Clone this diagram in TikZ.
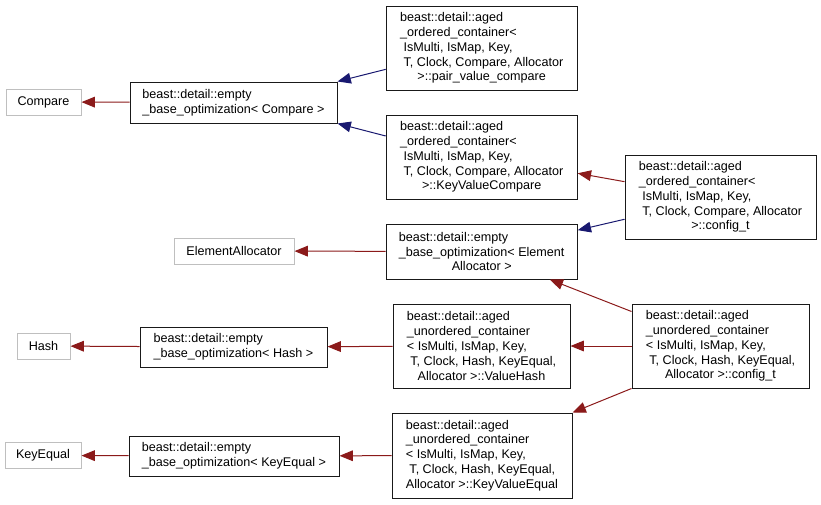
\documentclass[tikz,border=0pt]{standalone}
\usepackage{fontspec}
\setmainfont{Liberation Sans}
\usepackage{xcolor}
\usetikzlibrary{arrows.meta}
\definecolor{privred}{HTML}{8B1A1A}
\definecolor{pubblue}{HTML}{191970}
\definecolor{extgray}{HTML}{BFBFBF}
\tikzset{
  classbox/.style={draw=black!90, line width=0.75pt, align=left, inner xsep=5pt, inner ysep=2pt,
    font=\fontsize{9.45pt}{11.1pt}\selectfont},
  extbox/.style={classbox, draw=extgray},
  privarrow/.style={draw=privred, line width=0.75pt, -{Triangle[length=10pt,width=8pt]}},
  pubarrow/.style={draw=pubblue, line width=0.75pt, -{Triangle[length=10pt,width=8pt]}}
}

\begin{document}
\begin{tikzpicture}[x=0.75pt, y=-0.75pt]
      \useasboundingbox (0,0) rectangle (821,504);
      % left column: external classes
      \node[extbox, minimum width=56.25pt, minimum height=19.5pt] (compare) at (43.5,102) {Compare};
      \node[extbox, minimum width=90pt, minimum height=19.5pt] (elemalloc) at (234,251) {ElementAllocator};
      \node[extbox, minimum width=39.75pt, minimum height=19.5pt] (hash) at (43.5,346) {Hash};
      \node[extbox, minimum width=57pt, minimum height=20pt] (keyeq) at (43,455.5) {KeyEqual};
      % empty base optimization
      \node[classbox, minimum width=155.25pt, minimum height=30.75pt] (ebocmp) at (233.5,102.5)
        {beast::detail::empty\\\_base\_optimization< Compare >};
      \node[classbox, minimum width=143.25pt, minimum height=41.25pt] (eboelem) at (481.7,251.5)
        {beast::detail::empty\\\_base\_optimization< Element\\\hfil Allocator >};
      \node[classbox, minimum width=140.25pt, minimum height=30pt] (ebohash) at (233.5,347)
        {beast::detail::empty\\\_base\_optimization< Hash >};
      \node[classbox, minimum width=157.5pt, minimum height=30pt] (ebokeyeq) at (234,456)
        {beast::detail::empty\\\_base\_optimization< KeyEqual >};
      % aged containers
      \node[classbox, minimum width=143.25pt, minimum height=63pt] (pairvc) at (481.7,48)
        {beast::detail::aged\\\_ordered\_container<\\\ IsMulti, IsMap, Key,\\\ T, Clock, Compare, Allocator\\\hfil >::pair\_value\_compare};
      \node[classbox, minimum width=143.25pt, minimum height=63pt] (kvc) at (481.7,157)
        {beast::detail::aged\\\_ordered\_container<\\\ IsMulti, IsMap, Key,\\\ T, Clock, Compare, Allocator\\\hfil >::KeyValueCompare};
      \node[classbox, minimum width=143.25pt, minimum height=63pt] (cfgord) at (720.5,197)
        {beast::detail::aged\\\_ordered\_container<\\\ IsMulti, IsMap, Key,\\\ T, Clock, Compare, Allocator\\\hfil >::config\_t};
      \node[classbox, minimum width=132.75pt, minimum height=63pt] (valhash) at (481.5,346)
        {beast::detail::aged\\\_unordered\_container\\< IsMulti, IsMap, Key,\\\ T, Clock, Hash, KeyEqual,\\\hfil Allocator >::ValueHash};
      \node[classbox, minimum width=132.75pt, minimum height=63pt] (cfgunord) at (720.5,346)
        {beast::detail::aged\\\_unordered\_container\\< IsMulti, IsMap, Key,\\\ T, Clock, Hash, KeyEqual,\\\hfil Allocator >::config\_t};
      \node[classbox, minimum width=135pt, minimum height=63.75pt] (kveq) at (482,455.5)
        {beast::detail::aged\\\_unordered\_container\\< IsMulti, IsMap, Key,\\\ T, Clock, Hash, KeyEqual,\\\hfil Allocator >::KeyValueEqual};
      % inheritance
      \draw[privarrow] (ebocmp) -- (compare);
      \draw[pubarrow] ([yshift=-16pt]pairvc.west) -- (ebocmp.north east);
      \draw[pubarrow] ([yshift=15.75pt]kvc.west) -- (ebocmp.south east);
      \draw[privarrow] ([yshift=11.5pt]cfgord.west) -- ([yshift=-12.2pt]kvc.east);
      \draw[pubarrow] ([yshift=-16.7pt]cfgord.west) -- ([yshift=16pt]eboelem.east);
      \draw[privarrow] (eboelem) -- (elemalloc);
      \draw[privarrow] ([yshift=-6pt]cfgunord.north west) -- ([xshift=51pt]eboelem.south);
      \draw[privarrow] (cfgunord) -- (valhash);
      \draw[privarrow] (cfgunord.south west) -- (kveq.north east);
      \draw[privarrow] (valhash) -- (ebohash);
      \draw[privarrow] (ebohash) -- (hash);
      \draw[privarrow] (kveq) -- (ebokeyeq);
      \draw[privarrow] (ebokeyeq) -- (keyeq);
    \end{tikzpicture}
\end{document}
